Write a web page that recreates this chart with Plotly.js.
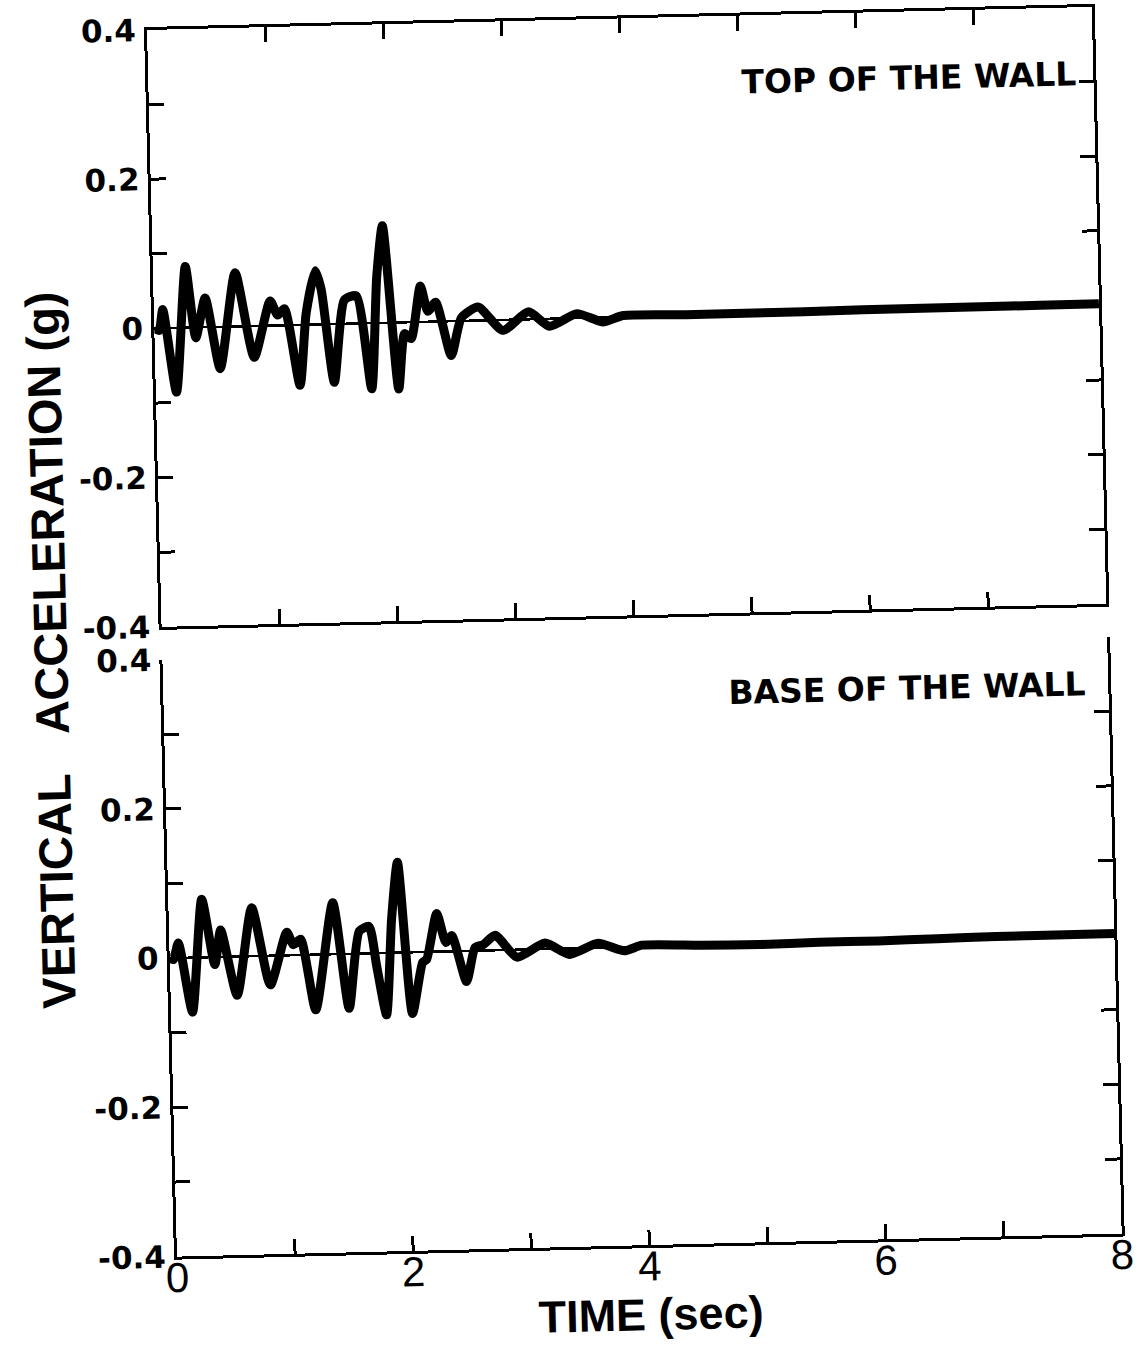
<!DOCTYPE html>
<html>
<head>
<meta charset="utf-8">
<script src="https://cdn.plot.ly/plotly-3.0.1.min.js"></script>
<style>
html,body{margin:0;padding:0;background:#fff;overflow:hidden;width:1139px;height:1352px;}
#chart{position:absolute;left:0;top:0;width:1139px;height:1352px;transform:rotate(-1.4deg);transform-origin:147px 30px;}
#chart g.x2tick{transform:translateY(-18px);}
</style>
</head>
<body>
<div id="chart"></div>
<script>
// Top of the wall: time (sec) and vertical acceleration (g)
const topTime = [0, 0.04, 0.075, 0.175, 0.275, 0.35, 0.436, 0.55, 0.695, 0.84, 0.986, 1.047, 1.106, 1.222, 1.288, 1.374, 1.42, 1.513, 1.615, 1.716, 1.828, 1.893, 1.951, 2.057, 2.117, 2.172, 2.26, 2.319, 2.386, 2.508, 2.601, 2.744, 2.95, 3.17, 3.345, 3.58, 3.8, 3.97, 4.5, 5, 5.5, 6, 6.5, 7, 7.5, 8];
const topAccel = [0, -0.003, 0.025, -0.086, 0.082, -0.014, 0.039, -0.056, 0.072, -0.042, 0.033, 0.014, 0.022, -0.081, 0.015, 0.072, 0.047, -0.078, 0.032, 0.037, -0.088, 0.062, 0.130, -0.089, -0.015, -0.022, 0.048, 0.014, 0.026, -0.046, 0.004, 0.018, -0.014, 0.010, -0.010, 0.006, -0.006, 0.002, 0.001, 0.001, 0.001, 0.002, 0.002, 0.002, 0.002, 0.002];

// Base of the wall
const baseTime = [0, 0.03, 0.076, 0.182, 0.283, 0.381, 0.437, 0.564, 0.704, 0.847, 0.996, 1.049, 1.112, 1.226, 1.391, 1.509, 1.61, 1.693, 1.75, 1.824, 1.886, 1.947, 2.044, 2.14, 2.175, 2.269, 2.341, 2.392, 2.508, 2.586, 2.657, 2.759, 2.94, 3.18, 3.385, 3.627, 3.85, 4.0, 4.5, 5, 5.5, 6, 6.5, 7, 7.5, 8];
const baseAccel = [0, -0.002, 0.020, -0.073, 0.078, -0.010, 0.036, -0.052, 0.065, -0.039, 0.031, 0.014, 0.021, -0.074, 0.069, -0.073, 0.030, 0.036, -0.017, -0.083, 0.045, 0.121, -0.082, -0.014, -0.010, 0.051, 0.012, 0.021, -0.041, 0.004, 0.008, 0.020, -0.010, 0.008, -0.008, 0.006, -0.005, 0.002, 0.000, -0.001, 0.000, 0.000, 0.001, 0.002, 0.002, 0.002];

// Tick values and labels
const timeTicks = [0, 1, 2, 3, 4, 5, 6, 7, 8];
const timeLabels = ['0', '', '2', '', '4', '', '6', '', '8'];
const accelTicks = [-0.4, -0.3, -0.2, -0.1, 0, 0.1, 0.2, 0.3, 0.4];
const accelLabels = ['-0.4', '', '-0.2', '', '0', '', '0.2', '', '0.4'];
const panelLabels = ['TOP OF THE WALL', 'BASE OF THE WALL'];
const xTitle = 'TIME (sec)';
const yTitle = 'VERTICAL\u00a0\u00a0\u00a0ACCELERATION (g)';

const lineStyle = {color: '#000', width: 9, shape: 'spline', smoothing: 0.6};

const traces = [
  {x: topTime, y: topAccel, xaxis: 'x', yaxis: 'y', mode: 'lines', line: lineStyle, name: panelLabels[0], hoverinfo: 'skip'},
  {x: baseTime, y: baseAccel, xaxis: 'x2', yaxis: 'y2', mode: 'lines', line: lineStyle, name: panelLabels[1], hoverinfo: 'skip'}
];

const yTickFont = {family: 'DejaVu Sans', size: 31, color: '#000', weight: 'bold'};
function yAxis(domain, anchor) {
  return {
    domain: domain, anchor: anchor, range: [-0.4, 0.4],
    tickmode: 'array', tickvals: accelTicks, ticktext: accelLabels,
    ticks: 'inside', ticklen: 15, tickwidth: 3, tickcolor: '#000',
    showline: true, linewidth: 3, linecolor: '#000', mirror: 'allticks',
    showgrid: false, zeroline: true, zerolinewidth: 2.5, zerolinecolor: '#000',
    tickfont: yTickFont, ticklabelstandoff: 2
  };
}

const layout = {
  width: 1139, height: 1352,
  margin: {l: 147, r: 47, t: 30, b: 95},
  paper_bgcolor: '#fff', plot_bgcolor: '#fff',
  showlegend: false,
  xaxis: {
    domain: [0, 1], anchor: 'y', range: [0, 8],
    tickmode: 'array', tickvals: timeTicks, ticktext: timeLabels, showticklabels: false,
    ticks: 'inside', ticklen: 15, tickwidth: 3, tickcolor: '#000',
    showline: true, linewidth: 3, linecolor: '#000', mirror: 'allticks',
    showgrid: false, zeroline: false
  },
  yaxis: yAxis([0.5134, 1], 'x'),
  xaxis2: {
    domain: [0, 1], anchor: 'y2', range: [0, 8],
    tickmode: 'array', tickvals: timeTicks, ticktext: timeLabels,
    ticks: 'inside', ticklen: 15, tickwidth: 3, tickcolor: '#000',
    showline: true, linewidth: 3, linecolor: '#000', mirror: false,
    showgrid: false, zeroline: false,
    tickfont: {family: 'Liberation Sans', size: 42, color: '#000'},
    ticklabelstandoff: 0,
    title: {text: xTitle, font: {family: 'Liberation Sans', size: 45, color: '#000', weight: 'bold'}, standoff: 20}
  },
  yaxis2: yAxis([0, 0.4866], 'x2'),
  annotations: [
    {xref: 'x', yref: 'y', x: 6.44, y: 0.311, text: panelLabels[0], showarrow: false, xanchor: 'center', yanchor: 'middle',
     font: {family: 'DejaVu Sans', size: 33, color: '#000', weight: 'bold'}},
    {xref: 'x2', yref: 'y2', x: 6.29, y: 0.338, text: panelLabels[1], showarrow: false, xanchor: 'center', yanchor: 'middle',
     font: {family: 'DejaVu Sans', size: 33, color: '#000', weight: 'bold'}},
    {xref: 'paper', yref: 'paper', x: -0.118, y: 0.4966, text: yTitle, textangle: -90, showarrow: false,
     xanchor: 'center', yanchor: 'middle', font: {family: 'Liberation Sans', size: 47, color: '#000', weight: 'bold'}}
  ]
};

Plotly.newPlot('chart', traces, layout, {displayModeBar: false, staticPlot: true});
</script>
</body>
</html>
